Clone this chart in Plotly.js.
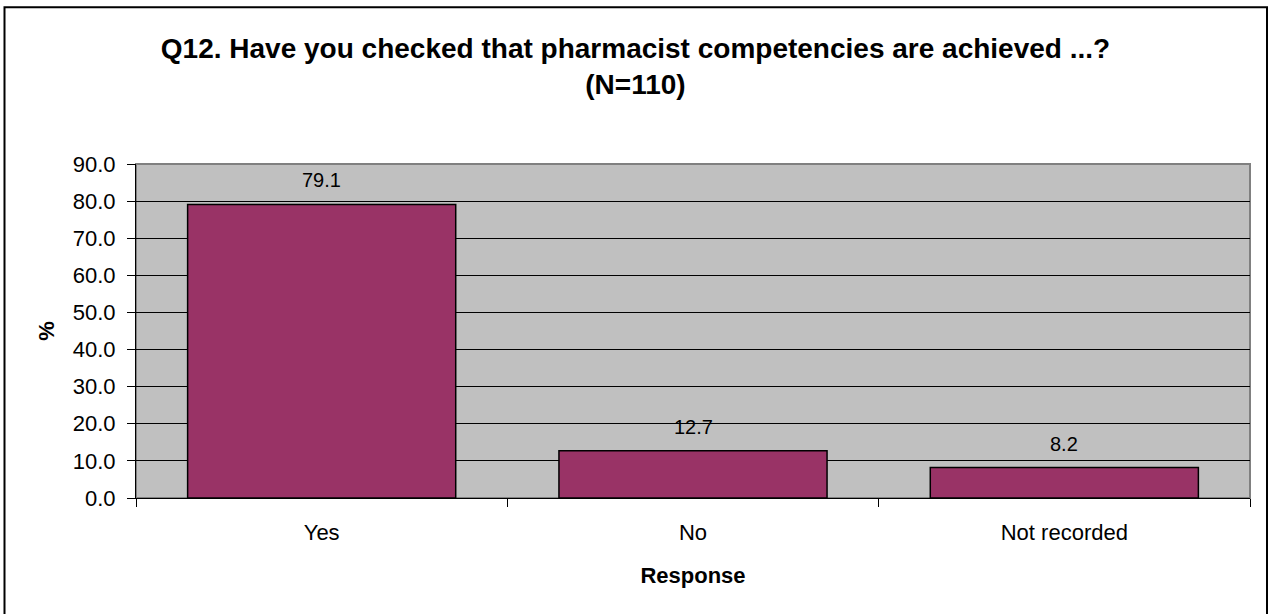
<!DOCTYPE html>
<html>
<head>
<meta charset="utf-8">
<script src="https://cdn.plot.ly/plotly-3.0.1.min.js"></script>
<style>
  html, body { margin: 0; padding: 0; background: #fff; }
  #chart { width: 1271px; height: 614px; }
</style>
</head>
<body>
<div id="chart"></div>
<script>
// Survey responses, percentage of respondents
const categories = ["Yes", "No", "Not recorded"];
const percentages = [79.1, 12.7, 8.2];
const yTickValues = [0, 10, 20, 30, 40, 50, 60, 70, 80, 90];

const FONT = '"Liberation Sans", Arial, sans-serif';

// Plot area in pixels (within the 1271 x 614 figure)
const M = { l: 136, r: 21, t: 164, b: 116 };
const plotW = 1271 - M.l - M.r;
const plotH = 614 - M.t - M.b;
// Convert a pixel position of the page into paper coordinates
const px = x => (x - M.l) / plotW;
const py = y => (614 - M.b - y) / plotH;

const trace = {
  type: "bar",
  x: categories,
  y: percentages,
  marker: { color: "#993366", line: { color: "#000000", width: 1.5 } },
  hoverinfo: "x+y"
};

// Value labels floating above each bar
const valueLabels = categories.map((c, i) => ({
  x: c,
  y: percentages[i],
  xref: "x",
  yref: "y",
  text: percentages[i].toFixed(1),
  showarrow: false,
  yanchor: "middle",
  yshift: 24,
  font: { family: FONT, size: 20, color: "#000" }
}));

const layout = {
  width: 1271,
  height: 614,
  margin: M,
  paper_bgcolor: "#ffffff",
  plot_bgcolor: "#c0c0c0",
  showlegend: false,
  bargap: 0.278,
  title: {
    text: "<b>Q12. Have you checked that pharmacist competencies are achieved ...?<br>(N=110)</b>",
    font: { family: FONT, size: 28, color: "#000" },
    xref: "container",
    x: 0.5,
    xanchor: "center",
    yref: "container",
    y: 1 - 58 / 614,
    yanchor: "middle"
  },
  xaxis: {
    type: "category",
    tickson: "boundaries",
    ticks: "outside",
    ticklen: 8,
    tickcolor: "#000",
    tickwidth: 1,
    showline: true,
    linecolor: "#000",
    linewidth: 1,
    showgrid: false,
    zeroline: false,
    tickfont: { family: FONT, size: 22, color: "#000" },
    ticklabelstandoff: 15,
    title: {
      text: "<b>Response</b>",
      font: { family: FONT, size: 22, color: "#000" },
      standoff: 23
    }
  },
  yaxis: {
    range: [0, 90],
    tickvals: yTickValues,
    tickformat: ".1f",
    ticks: "outside",
    ticklen: 8,
    tickcolor: "#000",
    tickwidth: 1,
    showline: true,
    linecolor: "#000",
    linewidth: 1,
    showgrid: true,
    gridcolor: "#000",
    gridwidth: 1,
    zeroline: false,
    tickfont: { family: FONT, size: 22, color: "#000" },
    ticklabelstandoff: 7,
    title: {
      text: "<b>%</b>",
      font: { family: FONT, size: 22, color: "#000" },
      standoff: 12
    }
  },
  shapes: [
    // grey frame on the top and right of the plot area
    {
      type: "rect", xref: "paper", yref: "paper",
      x0: 0, x1: 1, y0: 0, y1: 1,
      line: { color: "#808080", width: 2 },
      layer: "below"
    },
    // outer chart border
    {
      type: "rect", xref: "paper", yref: "paper",
      x0: px(4.5), x1: px(1267), y0: py(625), y1: py(7.3),
      line: { color: "#000", width: 2 },
      fillcolor: "rgba(0,0,0,0)"
    }
  ],
  annotations: valueLabels
};

Plotly.newPlot("chart", [trace], layout, { displayModeBar: false, staticPlot: true });
</script>
</body>
</html>
